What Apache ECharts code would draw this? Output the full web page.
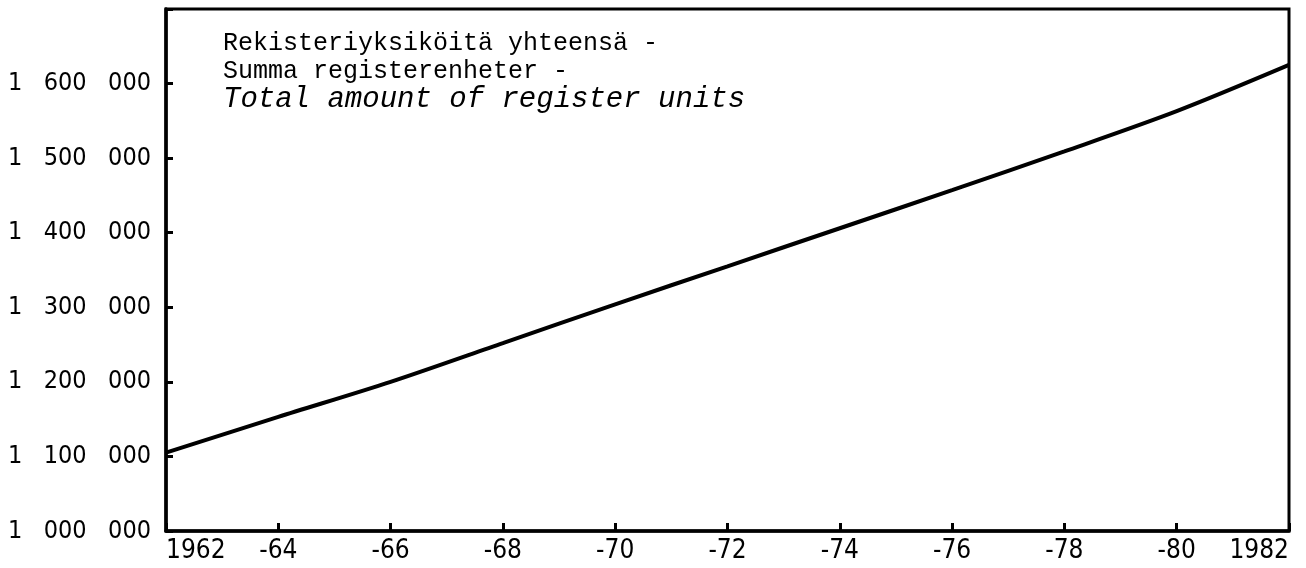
<!DOCTYPE html>
<html>
<head>
<meta charset="utf-8">
<script src="https://cdn.jsdelivr.net/npm/echarts@6/dist/echarts.min.js"></script>
<style>
html,body{margin:0;padding:0;background:#fff;}
#chart{width:1306px;height:568px;}
</style>
</head>
<body>
<div id="chart"></div>
<script>
const years = [1962, 1964, 1966, 1968, 1970, 1972, 1974, 1976, 1978, 1980, 1982];
const registerUnits = [1105000, 1153000, 1200000, 1252000, 1304000, 1355000, 1406000, 1457000, 1509000, 1563000, 1625000];
const xTickLabels = ['1962', '-64', '-66', '-68', '-70', '-72', '-74', '-76', '-78', '-80', '1982'];
const yTickLabels = ['1   000   000', '1   100   000', '1   200   000', '1   300   000', '1   400   000', '1   500   000', '1   600   000', ''];
const titleLines = ['Rekisteriyksiköitä yhteensä -', 'Summa registerenheter -', 'Total amount of register units'];

const axisFont = '"DejaVu Sans Condensed", "Liberation Sans Narrow", "DejaVu Sans", sans-serif';
const monoFont = '"Liberation Mono", "DejaVu Sans Mono", monospace';

const chart = echarts.init(document.getElementById('chart'));
chart.setOption({
  animation: false,
  backgroundColor: '#fff',
  title: {
    left: 218, top: 24,
    text: '{a|' + titleLines[0] + '}\n{a|' + titleLines[1] + '}\n{b|' + titleLines[2] + '}',
    textStyle: {
      fontWeight: 'normal',
      rich: {
        a: { fontFamily: monoFont, fontSize: 25, lineHeight: 28, fontWeight: 'normal', color: '#000' },
        b: { fontFamily: monoFont, fontSize: 29, lineHeight: 28, fontWeight: 'normal', fontStyle: 'italic', color: '#000' }
      }
    }
  },
  grid: {
    left: 166, right: 17, top: 9, bottom: 37,
    show: true, borderColor: '#000', borderWidth: 3, backgroundColor: 'transparent'
  },
  xAxis: {
    type: 'value', min: 1962, max: 1982, interval: 2,
    axisLine: { show: true, lineStyle: { color: '#000', width: 3.5 } },
    axisTick: { show: true, inside: true, length: 8, lineStyle: { color: '#000', width: 3 } },
    splitLine: { show: false },
    axisLabel: {
      color: '#000', fontFamily: axisFont, fontSize: 26, margin: 7,
      alignMinLabel: 'left', alignMaxLabel: 'right',
      formatter: (v) => xTickLabels[Math.round((v - 1962) / 2)]
    }
  },
  yAxis: {
    type: 'value', min: 1000000, max: 1700000, interval: 100000,
    axisLine: { show: true, lineStyle: { color: '#000', width: 3.5 } },
    axisTick: { show: true, inside: true, length: 7, lineStyle: { color: '#000', width: 3 } },
    splitLine: { show: false },
    axisLabel: {
      color: '#000', fontFamily: axisFont, fontSize: 25, margin: 15,
      formatter: (v) => yTickLabels[Math.round((v - 1000000) / 100000)]
    }
  },
  series: [{
    type: 'line',
    data: years.map((y, i) => [y, registerUnits[i]]),
    symbol: 'none',
    smooth: 0.3,
    lineStyle: { color: '#000', width: 4 },
    z: 5
  }]
});
</script>
</body>
</html>
